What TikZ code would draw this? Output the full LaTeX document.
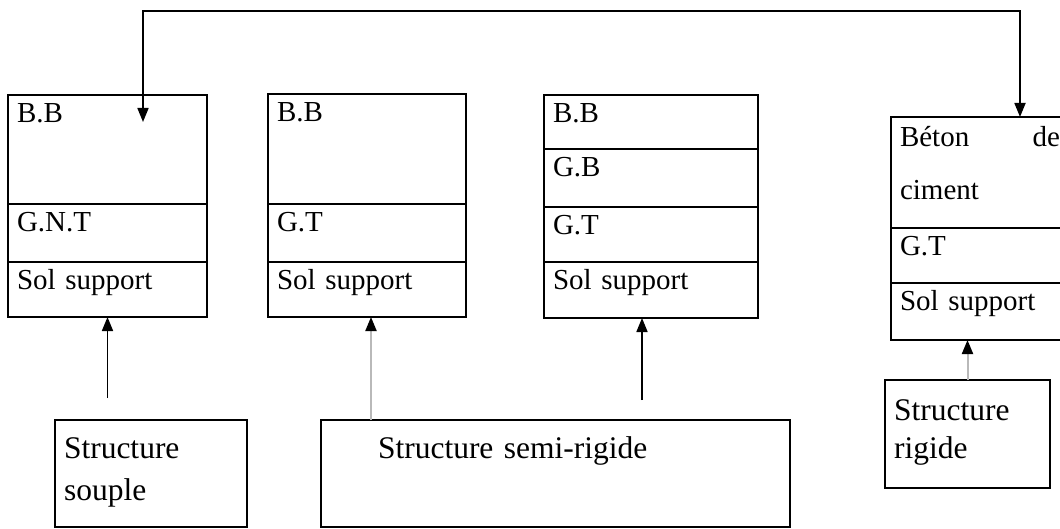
\documentclass[tikz,border=0pt]{standalone}
\usepackage{fontspec}
\setmainfont{Liberation Serif}
\usetikzlibrary{positioning, arrows.meta}

\begin{document}
\begin{tikzpicture}[x=1pt, y=-1pt, font=\fontsize{29}{38}\selectfont]
\tikzset{layer/.style={draw, line width=2.8pt, outer sep=0pt, inner xsep=9pt, inner ysep=0pt,
                       align=left, text height=28pt},
         struct/.style={draw, line width=1.6pt, outer sep=0pt, inner xsep=9pt, inner ysep=0pt,
                        align=left, anchor=north west, font=\fontsize{31.5}{38}\selectfont},
         arr/.style={line width=1.7pt, -{Triangle[length=14pt,width=11pt]}},
         grayarr/.style={line width=2pt, draw=gray!55, -{Triangle[length=14pt,width=11pt,color=black]}}}
\useasboundingbox (0,0) rectangle (1060,529);

% souple
\node[layer, anchor=north west, text width=181pt, text depth=81pt] (b1a) at (8,95) {B.B};
\node[layer, below=0pt of b1a, text width=181pt, text depth=30pt] (b1b) {G.N.T};
\node[layer, below=0pt of b1b, text width=181pt, text depth=27pt] (b1c) {Sol support};

% semi-rigide (1)
\node[layer, anchor=north west, text width=180pt, text depth=82pt] (b2a) at (268,94) {B.B};
\node[layer, below=0pt of b2a, text width=180pt, text depth=30pt] (b2b) {G.T};
\node[layer, below=0pt of b2b, text width=180pt, text depth=27pt] (b2c) {Sol support};

% semi-rigide (2)
\node[layer, anchor=north west, text width=196pt, text depth=26pt] (b3a) at (544,95) {B.B};
\node[layer, below=0pt of b3a, text width=196pt, text depth=30pt] (b3b) {G.B};
\node[layer, below=0pt of b3b, text width=196pt, text depth=27pt] (b3c) {G.T};
\node[layer, below=0pt of b3c, text width=196pt, text depth=28pt] (b3d) {Sol support};

% rigide
\node[layer, anchor=north west, text width=160pt, text height=30pt, text depth=81pt] (b4a) at (891,117)
  {B\'eton\hfill de\\[15pt]ciment};
\node[layer, below=0pt of b4a, text width=160pt, text depth=27pt] (b4b) {G.T};
\node[layer, below=0pt of b4b, text width=160pt, text depth=29pt] (b4c) {Sol support};

% structures
\node[struct, text width=174pt, text height=38pt, text depth=69pt] (souple) at (55,420)
  {Structure\\[4pt]souple};
\node[struct, text width=451pt, text height=38pt, text depth=69pt] (semi) at (321,420)
  {\hspace*{48pt}Structure semi-rigide};
\node[struct, text width=147pt, text height=40pt, text depth=68pt] (rigide) at (885,380)
  {Structure\\rigide};

% arrows
\coordinate (bbtip) at (143,122);
\draw[line width=1.7pt, {Triangle[length=14pt,width=11pt]}-{Triangle[length=14pt,width=11pt]}]
  (bbtip) -- ++(0,-111) -| ([xshift=40pt]b4a.north);
\draw[arr, shorten <=22pt] (b1c.south |- souple.north) -- (b1c.south);
\draw[grayarr] ([xshift=4pt]b2c.south |- semi.north) -- ([xshift=4pt]b2c.south);
\draw[arr, shorten <=20pt] ([xshift=-9pt]b3d.south |- semi.north) -- ([xshift=-9pt]b3d.south);
\draw[grayarr] (rigide.north) -- (rigide.north |- b4c.south);
\end{tikzpicture}
\end{document}
